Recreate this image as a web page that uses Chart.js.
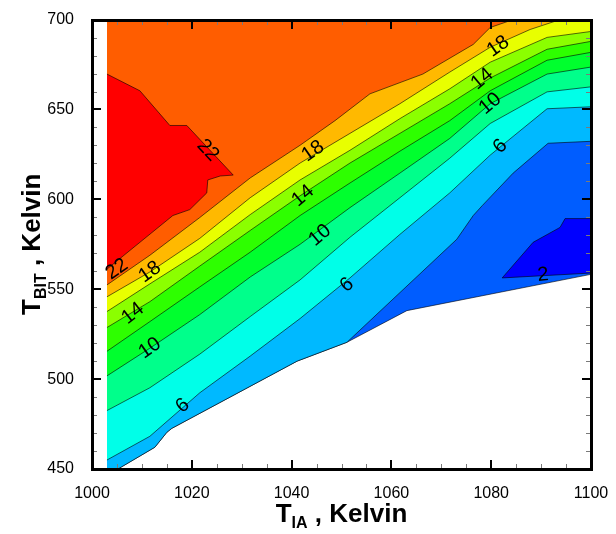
<!DOCTYPE html>
<html>
<head>
<meta charset="utf-8">
<title>T_BIT vs T_IA contour</title>
<script src="https://cdn.jsdelivr.net/npm/chart.js@4.4.1/dist/chart.umd.min.js"></script>
<style>
  html, body { margin: 0; padding: 0; background: #fff; }
  canvas { display: block; }
</style>
</head>
<body>
<canvas id="contourChart" width="616" height="534"></canvas>
<script>
"use strict";

// axes
const xTickValues = [1000, 1020, 1040, 1060, 1080, 1100];
const yTickValues = [450, 500, 550, 600, 650, 700];
const X_MINOR_STEP = 5;
const Y_MINOR_STEP = 10;

// lower edge of the computed domain (blank below it)
const domainX = [1003, 1005.2, 1012.6, 1015.0, 1016.0, 1041.1, 1051.1, 1063.1, 1100];
const domainY = [450, 450, 462.1, 470.4, 472.6, 510.0, 520.5, 538.1, 558.3];

// contour levels
const level4X = [1051.1, 1073.1, 1076.4, 1078.2, 1084.4, 1091.4, 1100];
const level4Y = [520.5, 577.8, 591.0, 596.5, 614.6, 631.2, 632.3];

const levelX = [1003, 1011.6, 1021.6, 1031.7, 1041.7, 1051.7, 1061.7, 1071.7, 1079.8, 1091.2, 1100];
const level6Y = [455.0, 468.2, 492.4, 512.8, 533.7, 556.3, 580.5, 603.6, 624.6, 650.4, 651.5];
const level8Y = [482.5, 495.2, 513.9, 534.8, 555.2, 578.9, 600.9, 622.9, 642.2, 659.8, 662.6];
const level10Y = [501.8, 517.2, 535.9, 556.8, 575.0, 595.4, 614.6, 633.9, 653.2, 669.7, 673.6];
const level12Y = [515.5, 532.0, 551.3, 570.6, 591.0, 609.1, 626.8, 643.8, 660.4, 677.4, 681.8];
const level14Y = [528.7, 543.1, 562.9, 582.7, 602.0, 620.2, 636.7, 653.2, 667.5, 683.5, 687.9];
const level16Y = [537.6, 553.0, 570.6, 591.5, 610.8, 627.3, 644.9, 661.5, 676.3, 690.1, 693.4];

const level18X = [1003, 1011.6, 1021.6, 1031.7, 1041.7, 1051.7, 1061.7, 1071.7, 1079.8, 1087.8, 1093.8];
const level18Y = [545.8, 559.6, 578.3, 600.9, 620.2, 636.7, 653.2, 670.8, 684.6, 694.5, 700];

const level20X = [1003, 1011.6, 1021.6, 1031.7, 1041.7, 1048.7, 1055.7, 1066.3, 1076.4, 1079.8, 1084.4];
const level20Y = [552.4, 568.9, 589.9, 611.9, 630.1, 643.8, 658.7, 669.7, 686.2, 695.6, 700];

// closed 22 region (top-left) and closed 2 region (bottom-right)
const level22TopX = [1003, 1009.6, 1015.6, 1019.0, 1028.3];
const level22TopY = [669.7, 660.4, 641.1, 641.1, 613.5];
const level22BottomX = [1003, 1016.2, 1019.6, 1023.0, 1023.2, 1025.7, 1028.3];
const level22BottomY = [561.2, 591.0, 594.3, 603.6, 610.8, 613.0, 613.5];

const level2TopX = [1082.2, 1088.4, 1093.8, 1094.8, 1100];
const level2TopY = [556.3, 576.1, 584.4, 589.3, 589.3];
const level2BottomX = [1082.2, 1100];
const level2BottomY = [556.3, 559.0];

// contour labels
const labelText = ["22", "22", "18", "14", "10", "6", "18", "14", "10", "6", "18", "14", "10", "6", "2"];
const labelX = [1023.2, 1005.0, 1011.6, 1008.2, 1011.6, 1018.2, 1044.3, 1042.3, 1045.7, 1051.1, 1081.4, 1078.2, 1079.8, 1081.8, 1090.4];
const labelY = [627.3, 561.2, 559.6, 536.5, 517.2, 485.2, 626.8, 602.0, 580.0, 552.4, 685.1, 667.0, 653.2, 629.5, 557.9];
const labelAngle = [47, -35, -35, -38, -35, -40, -35, -40, -40, -40, -35, -40, -40, -45, -5];

// band colours, lowest to highest
const BAND_COLORS = {
  below2: "#0000ff",
  from2: "#005dff",
  from4: "#00b9ff",
  from6: "#00ffe8",
  from8: "#00ff8b",
  from10: "#00ff2e",
  from12: "#2eff00",
  from14: "#8bff00",
  from16: "#e8ff00",
  from18: "#ffb900",
  from20: "#ff5d00",
  above22: "#ff0000"
};

const FONT = "Arial, 'Liberation Sans', sans-serif";

function curve(xs, ys) {
  return xs.map((x, i) => ({ x, y: ys[i] }));
}

// left of where a level leaves the domain edge, it runs along that edge
function withDomainFloor(xs, ys) {
  const pts = [];
  domainX.forEach((x, i) => {
    if (x < xs[0]) pts.push({ x, y: domainY[i] });
  });
  return pts.concat(curve(xs, ys));
}

const lineStyle = {
  borderColor: "rgba(0,0,0,0.85)",
  borderWidth: 0.7,
  pointRadius: 0,
  tension: 0
};

const bands = [
  { data: curve(domainX, domainY), color: BAND_COLORS.from2 },
  { data: withDomainFloor(level4X, level4Y), color: BAND_COLORS.from4 },
  { data: curve(levelX, level6Y), color: BAND_COLORS.from6 },
  { data: curve(levelX, level8Y), color: BAND_COLORS.from8 },
  { data: curve(levelX, level10Y), color: BAND_COLORS.from10 },
  { data: curve(levelX, level12Y), color: BAND_COLORS.from12 },
  { data: curve(levelX, level14Y), color: BAND_COLORS.from14 },
  { data: curve(levelX, level16Y), color: BAND_COLORS.from16 },
  { data: curve(level18X, level18Y), color: BAND_COLORS.from18 },
  { data: curve(level20X, level20Y), color: BAND_COLORS.from20 }
];

const datasets = bands.map((band, i) => ({
  ...lineStyle,
  data: band.data,
  backgroundColor: band.color,
  fill: "end",
  order: 100 - i
}));

datasets.push({ ...lineStyle, data: curve(level22TopX, level22TopY), backgroundColor: BAND_COLORS.above22, fill: "+1", order: 20 });
datasets.push({ ...lineStyle, data: curve(level22BottomX, level22BottomY), fill: false, order: 19 });
datasets.push({ ...lineStyle, data: curve(level2TopX, level2TopY), backgroundColor: BAND_COLORS.below2, fill: "+1", order: 18 });
datasets.push({ ...lineStyle, data: curve(level2BottomX, level2BottomY), fill: false, order: 17 });

function drawContourLabels(chart) {
  const { ctx, scales } = chart;
  ctx.save();
  ctx.fillStyle = "#000";
  ctx.font = `20px ${FONT}`;
  ctx.textAlign = "center";
  ctx.textBaseline = "middle";
  labelText.forEach((text, i) => {
    ctx.save();
    ctx.translate(scales.x.getPixelForValue(labelX[i]), scales.y.getPixelForValue(labelY[i]));
    ctx.rotate(labelAngle[i] * Math.PI / 180);
    ctx.fillText(text, 0, 0);
    ctx.restore();
  });
  ctx.restore();
}

// frame and inward ticks on all four sides, as filled rectangles
function drawFrameAndTicks(chart) {
  const ctx = chart.ctx;
  const area = chart.chartArea;
  const xs = chart.scales.x;
  const ys = chart.scales.y;
  const L = Math.round(area.left);
  const R = Math.round(area.right);
  const T = Math.round(area.top);
  const B = Math.round(area.bottom);
  ctx.save();
  for (let v = xs.min; v <= xs.max; v += X_MINOR_STEP) {
    const major = xTickValues.includes(v);
    const px = Math.round(xs.getPixelForValue(v));
    const len = major ? 9 : 5;
    const w = major ? 2 : 1;
    ctx.fillStyle = major ? "#000000" : "#7a7a7a";
    ctx.fillRect(px - (major ? 1 : 0), B - len, w, len);
    ctx.fillRect(px - (major ? 1 : 0), T, w, len);
  }
  for (let v = ys.min; v <= ys.max; v += Y_MINOR_STEP) {
    const major = yTickValues.includes(v);
    const py = Math.round(ys.getPixelForValue(v));
    const len = major ? 9 : 5;
    const w = major ? 2 : 1;
    ctx.fillStyle = major ? "#000000" : "#7a7a7a";
    ctx.fillRect(L, py - (major ? 1 : 0), len, w);
    ctx.fillRect(R - len, py - (major ? 1 : 0), len, w);
  }
  ctx.fillStyle = "#000000";
  ctx.fillRect(L - 1, T - 1, R - L + 3, 3);
  ctx.fillRect(L - 1, B - 1, R - L + 3, 3);
  ctx.fillRect(L - 1, T - 1, 3, B - T + 3);
  ctx.fillRect(R - 1, T - 1, 3, B - T + 3);
  ctx.restore();
}

// axis titles with a subscript, drawn along the baseline
function drawSubscripted(ctx, main, sub, rest, cx, baseline) {
  const bigFont = `bold 26px ${FONT}`;
  const smallFont = `bold 16px ${FONT}`;
  ctx.font = bigFont;
  const w1 = ctx.measureText(main).width;
  const w3 = ctx.measureText(rest).width;
  ctx.font = smallFont;
  const w2 = ctx.measureText(sub).width;
  let left = cx - (w1 + w2 + w3) / 2;
  ctx.textAlign = "left";
  ctx.textBaseline = "alphabetic";
  ctx.font = bigFont;
  ctx.fillText(main, left, baseline);
  left += w1;
  ctx.font = smallFont;
  ctx.fillText(sub, left, baseline + 6);
  left += w2;
  ctx.font = bigFont;
  ctx.fillText(rest, left, baseline);
}

function drawAxisTitles(chart) {
  const { ctx, chartArea: a } = chart;
  ctx.save();
  ctx.fillStyle = "#000";
  drawSubscripted(ctx, "T", "IA", " , Kelvin", (a.left + a.right) / 2, 522);
  ctx.translate(40, (a.top + a.bottom) / 2);
  ctx.rotate(-Math.PI / 2);
  drawSubscripted(ctx, "T", "BIT", " , Kelvin", 0, 0);
  ctx.restore();
}

const decorations = {
  id: "decorations",
  afterDraw(chart) {
    drawContourLabels(chart);
    drawFrameAndTicks(chart);
    drawAxisTitles(chart);
  }
};

new Chart(document.getElementById("contourChart"), {
  type: "line",
  data: { datasets },
  options: {
    responsive: false,
    devicePixelRatio: 1,
    animation: false,
    events: [],
    layout: { padding: { top: 15, right: 25, left: 0, bottom: 0 } },
    plugins: {
      legend: { display: false },
      tooltip: { enabled: false }
    },
    scales: {
      x: {
        type: "linear",
        min: 1000,
        max: 1100,
        afterBuildTicks: (axis) => { axis.ticks = xTickValues.map((value) => ({ value })); },
        afterFit: (axis) => { axis.height = 65; },
        ticks: { color: "#000", font: { size: 16, family: FONT }, padding: 7, maxRotation: 0, callback: (v) => String(v) },
        grid: { display: false },
        border: { display: false }
      },
      y: {
        type: "linear",
        min: 450,
        max: 700,
        afterBuildTicks: (axis) => { axis.ticks = yTickValues.map((value) => ({ value })); },
        afterFit: (axis) => { axis.width = 92; },
        ticks: { color: "#000", font: { size: 16, family: FONT }, padding: 10, callback: (v) => String(v) },
        grid: { display: false },
        border: { display: false }
      }
    }
  },
  plugins: [decorations]
});
</script>
</body>
</html>
